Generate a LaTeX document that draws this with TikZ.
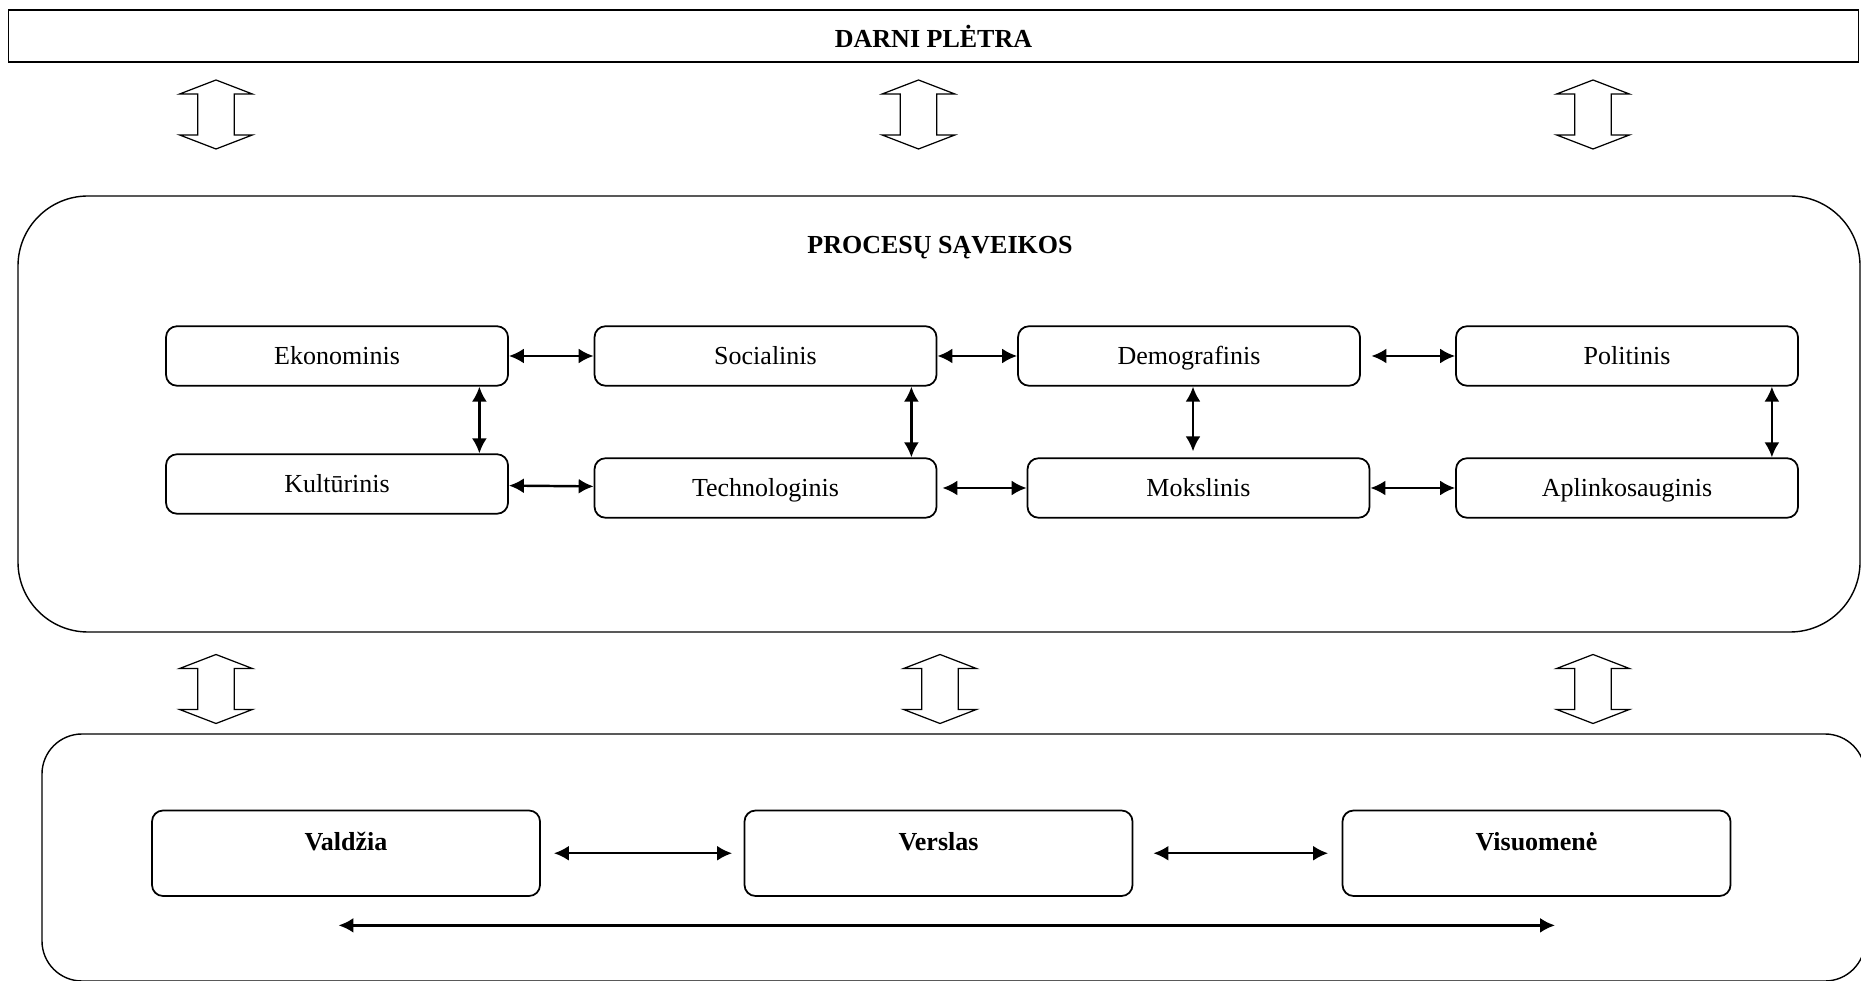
\documentclass[tikz,border=0pt]{standalone}
\usepackage{fontspec}
\setmainfont{Liberation Serif}
\usepackage{tikz}
\usetikzlibrary{arrows.meta,calc}

\tikzset{
  box/.style={draw, line width=1pt, rounded corners=0.22cm, minimum width=6.84cm, minimum height=1.19cm, inner sep=0pt, text height=0.4cm, text depth=0.06cm},
  grupe/.style={draw, line width=1pt, rounded corners=0.22cm, minimum width=7.76cm, minimum height=1.71cm, inner xsep=0pt, inner ysep=0.2cm, text height=0.59cm, text depth=0.72cm},
  bigbox/.style={draw, line width=0.8pt, inner sep=0pt},
  link/.style={line width=1.4pt, {Latex[length=8.5pt,width=8.5pt]}-{Latex[length=8.5pt,width=8.5pt]}},
  dblarrow/.pic={
    \draw[line width=0.7pt] (0,0.69) -- (0.727,0.41) -- (0.366,0.41) -- (0.366,-0.41) -- (0.727,-0.41)
      -- (0,-0.69) -- (-0.727,-0.41) -- (-0.366,-0.41) -- (-0.366,0.41) -- (-0.727,0.41) -- cycle;
  }
}

\begin{document}
\begin{tikzpicture}[font=\fontsize{14.8}{18}\selectfont]
        \useasboundingbox (0,0) rectangle (37.22,19.6);

        % Top.
        \node[draw, line width=0.8pt, minimum width=37.01cm, minimum height=1.04cm] (darni) at (18.67,18.88) {\textbf{DARNI PLĖTRA}};
        \pic at (4.32,17.31) {dblarrow};
        \pic at (18.37,17.31) {dblarrow};
        \pic at (31.86,17.31) {dblarrow};

        % Processes.
        \node[bigbox, rounded corners=1.4cm, minimum width=36.84cm, minimum height=8.72cm] (saveikos) at (18.78,11.32) {};
        \node (procesai) at (18.80,14.64) {\textbf{PROCESŲ SĄVEIKOS}};

        \node[box] (ekonominis) at (6.74,12.48) {Ekonominis};
        \node[box] (socialinis) at (15.31,12.48) {Socialinis};
        \node[box] (demografinis) at (23.78,12.48) {Demografinis};
        \node[box] (politinis) at (32.54,12.48) {Politinis};
        \node[box] (kulturinis) at (6.74,9.92) {Kultūrinis};
        \node[box] (technologinis) at (15.31,9.84) {Technologinis};
        \node[box] (mokslinis) at (23.97,9.84) {Mokslinis};
        \node[box] (aplinkosauginis) at (32.54,9.84) {Aplinkosauginis};

        %rows
        \draw[link] (ekonominis) -- (socialinis);
        \draw[link] (socialinis) -- (demografinis);
        \draw[link, shorten <=0.21cm] (demografinis) -- (politinis);
        \draw[link] (kulturinis) -- (technologinis);
        \draw[link, shorten <=0.1cm] (technologinis) -- (mokslinis);
        \draw[link] (mokslinis) -- (aplinkosauginis);

        %columns
        \draw[link] ([xshift=-0.59cm]ekonominis.south east) -- ([xshift=-0.59cm]kulturinis.north east);
        \draw[link] ([xshift=-0.52cm]socialinis.south east) -- ([xshift=-0.52cm]technologinis.north east);
        \draw[link, shorten >=0.12cm] ([xshift=0.08cm]demografinis.south) -- ([xshift=0.08cm]demografinis.south |- mokslinis.north);
        \draw[link] ([xshift=-0.54cm]politinis.south east) -- ([xshift=-0.54cm]aplinkosauginis.north east);

        % Bottom.
        \pic at (4.32,5.82) {dblarrow};
        \pic at (18.80,5.82) {dblarrow};
        \pic at (31.86,5.82) {dblarrow};

        \node[bigbox, rounded corners=0.8cm, minimum width=36.46cm, minimum height=4.94cm] (sektoriai) at (19.07,2.45) {};
        \node[grupe] (valdzia) at (6.92,2.535) {\textbf{Valdžia}};
        \node[grupe] (verslas) at (18.77,2.535) {\textbf{Verslas}};
        \node[grupe] (visuomene) at (30.73,2.535) {\textbf{Visuomenė}};

        \draw[link, shorten <=0.26cm, shorten >=0.23cm] (valdzia) -- (verslas);
        \draw[link, shorten <=0.4cm, shorten >=0.27cm] (verslas) -- (visuomene);
        \coordinate (L) at ($(valdzia.south)+(-0.15,-0.57)$);
        \coordinate (R) at ($(visuomene.south)+(0.37,-0.57)$);
        \draw[link] (L) -- (R);

    \end{tikzpicture}
\end{document}
